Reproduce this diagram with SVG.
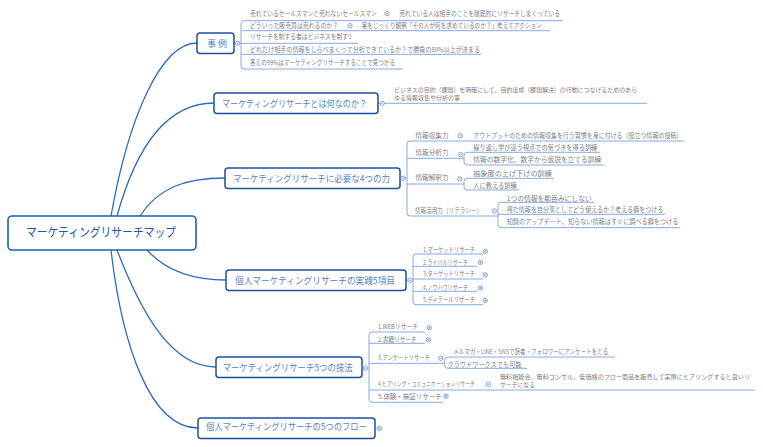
<svg xmlns="http://www.w3.org/2000/svg" xmlns:xlink="http://www.w3.org/1999/xlink" width="763" height="447" viewBox="0 0 763 447">
<style>
text{font-family:"Noto Sans CJK JP","Noto Sans CJK SC",sans-serif}
.conn{fill:none;stroke:#2c6cc8;stroke-width:1.3}
.sub{fill:none;stroke:#86aadf;stroke-width:1}
.rootbox{fill:#fff;stroke:#1b5fb5;stroke-width:1.6}
.brbox{fill:#fff;stroke:#1f4fa0;stroke-width:1.5}
.rt{font-size:12.5px;fill:#1d57a8;text-anchor:middle}
.bt{font-size:9.5px;fill:#5a82c6;text-anchor:middle}
.ct{font-size:6.5px;fill:#7e7e7e}
.gt{font-size:6.2px;fill:#7e7e7e}
</style>
<defs>
<g id="tm"><circle r="2.2" fill="#fff" stroke="#6b8fc9" stroke-width="0.8"/><path d="M-1.2,0H1.2" stroke="#6b8fc9" stroke-width="0.7"/></g>
<g id="tp"><circle r="2.2" fill="#fff" stroke="#6b8fc9" stroke-width="0.8"/><path d="M-1.2,0H1.2M0,-1.2V1.2" stroke="#6b8fc9" stroke-width="0.7"/></g>
</defs>
<rect width="763" height="447" fill="#fff"/>

<g id="connectors">
<path class="conn" d="M111,216 C128,120 160,43 197,43"/>
<path class="conn" d="M117,216 C138,140 170,103 214,103"/>
<path class="conn" d="M140,216 C158,188 185,178 225,178"/>
<path class="conn" d="M147,250 C165,270 190,280 226,280"/>
<path class="conn" d="M117,250 C142,315 172,367 216,367"/>
<path class="conn" d="M111,250 C122,345 150,428 198,428"/>

<path class="sub" d="M234,43.3H241"/>
<path class="sub" d="M241,23.7Q241,20.7 244,20.7H563"/>
<path class="sub" d="M241,23.7V66"/>
<path class="sub" d="M241,30.7H550"/>
<path class="sub" d="M241,43.3H358"/>
<path class="sub" d="M241,54.3H481"/>
<path class="sub" d="M241,66Q241,69 244,69H403"/>

<path class="sub" d="M378,103.3H647"/>

<path class="sub" d="M400,178H407"/>
<path class="sub" d="M407,144Q407,141 410,141H684"/>
<path class="sub" d="M407,144V213"/>
<path class="sub" d="M407,158.3H464"/>
<path class="sub" d="M407,184H464"/>
<path class="sub" d="M407,213Q407,216 410,216H498"/>
<path class="sub" d="M464,155.3Q464,152.3 467,152.3H600"/>
<path class="sub" d="M464,155.3V162"/>
<path class="sub" d="M464,162Q464,165 467,165H604"/>
<path class="sub" d="M464,181.3Q464,178.3 467,178.3H554"/>
<path class="sub" d="M464,181.3V187"/>
<path class="sub" d="M464,187Q464,190 467,190H519"/>
<path class="sub" d="M498,205.3Q498,202.3 501,202.3H594"/>
<path class="sub" d="M498,205.3V224.7"/>
<path class="sub" d="M498,214.3H665"/>
<path class="sub" d="M498,224.7Q498,227.7 501,227.7H680"/>

<path class="sub" d="M406,280.3H413"/>
<path class="sub" d="M413,257Q413,254 416,254H483"/>
<path class="sub" d="M413,257V301.7"/>
<path class="sub" d="M413,266.3H477"/>
<path class="sub" d="M413,279H483"/>
<path class="sub" d="M413,291.3H477"/>
<path class="sub" d="M413,301.7Q413,304.7 416,304.7H483"/>

<path class="sub" d="M362,368H369"/>
<path class="sub" d="M369,335Q369,332 372,332H425"/>
<path class="sub" d="M369,335V399.3"/>
<path class="sub" d="M369,343.3H425"/>
<path class="sub" d="M369,363.3H444.7"/>
<path class="sub" d="M369,390H755"/>
<path class="sub" d="M369,399.3Q369,402.3 372,402.3H443"/>
<path class="sub" d="M444.7,360Q444.7,357 447.7,357H615"/>
<path class="sub" d="M444.7,360V365.3"/>
<path class="sub" d="M444.7,365.3Q444.7,368.3 447.7,368.3H527"/>
</g>

<g id="root">
<rect class="rootbox" x="8" y="216" width="188" height="34" rx="4"/>
<text class="rt" x="101" y="237" textLength="150" lengthAdjust="spacingAndGlyphs">マーケティングリサーチマップ</text>
</g>

<g id="branch-jirei">
<rect class="brbox" x="197" y="33" width="37" height="20.5" rx="3"/>
<text class="bt" x="217" y="46.5" textLength="20" lengthAdjust="spacingAndGlyphs">事 例</text>
<use xlink:href="#tm" x="237.7" y="43.3"/>
<text class="ct" x="250" y="15.9" textLength="126.7" lengthAdjust="spacingAndGlyphs">売れているセールスマンと売れないセールスマン</text>
<use xlink:href="#tm" x="387" y="13.5"/>
<text class="ct" x="399.3" y="15.9" textLength="160.7" lengthAdjust="spacingAndGlyphs">売れている人は相手のことを徹底的にリサーチしまくっている</text>
<text class="ct" x="250" y="27.6" textLength="88" lengthAdjust="spacingAndGlyphs">どういった販売員は売れるのか？</text>
<use xlink:href="#tm" x="350" y="25.7"/>
<text class="ct" x="361.7" y="27.6" textLength="180" lengthAdjust="spacingAndGlyphs">客をじっくり観察「その人が何を求めているのか？」考えてアクション</text>
<text class="ct" x="250" y="39.3" textLength="101.7" lengthAdjust="spacingAndGlyphs">リサーチを制する者はビジネスを制す!!</text>
<text class="ct" x="250" y="52.4" textLength="230" lengthAdjust="spacingAndGlyphs">どれだけ相手の情報をしらべまくって分析できているか？で勝負の80%以上が決まる</text>
<text class="ct" x="250" y="65" textLength="145" lengthAdjust="spacingAndGlyphs">答えの99%はマーケティングリサーチすることで見つかる</text>
</g>

<g id="branch-what">
<rect class="brbox" x="214" y="93" width="164" height="20.5" rx="3"/>
<text class="bt" x="294.5" y="106.6" textLength="145" lengthAdjust="spacingAndGlyphs">マーケティングリサーチとは何なのか？</text>
<use xlink:href="#tm" x="382.3" y="103.3"/>
<text class="gt"><tspan x="394" y="92.2" textLength="243" lengthAdjust="spacingAndGlyphs">ビジネスの目的（課題）を明確にして、目的達成（課題解決）の行動につなげるためのあら</tspan><tspan x="394" y="99.8" textLength="66" lengthAdjust="spacingAndGlyphs">ゆる情報収集や分析の事</tspan></text>
</g>

<g id="branch-4power">
<rect class="brbox" x="225" y="168" width="175" height="20.5" rx="3"/>
<text class="bt" x="311.5" y="181.6" textLength="157" lengthAdjust="spacingAndGlyphs">マーケティングリサーチに必要な4つの力</text>
<use xlink:href="#tm" x="403" y="178.3"/>
<text class="ct" x="415.5" y="137.6" textLength="33" lengthAdjust="spacingAndGlyphs">情報収集力</text>
<use xlink:href="#tm" x="460.3" y="135.8"/>
<text class="ct" x="473.3" y="137.6" textLength="209" lengthAdjust="spacingAndGlyphs">アウトプットのための情報収集を行う習慣を身に付ける（役立つ情報の投稿）</text>
<text class="ct" x="415.5" y="155.3" textLength="33" lengthAdjust="spacingAndGlyphs">情報分析力</text>
<use xlink:href="#tm" x="460.5" y="154.6"/>
<text class="ct" x="473.3" y="150.2" textLength="124" lengthAdjust="spacingAndGlyphs">繰り返し学び違う視点での気づきを得る訓練</text>
<text class="ct" x="473.3" y="161.8" textLength="128" lengthAdjust="spacingAndGlyphs">情報の数字化、数字から仮説を立てる訓練</text>
<text class="ct" x="415.5" y="180.3" textLength="33" lengthAdjust="spacingAndGlyphs">情報解釈力</text>
<use xlink:href="#tm" x="459.8" y="178.8"/>
<text class="ct" x="473.3" y="175.9" textLength="78.5" lengthAdjust="spacingAndGlyphs">抽象度の上げ下げの訓練</text>
<text class="ct" x="473.3" y="187.6" textLength="43.5" lengthAdjust="spacingAndGlyphs">人に教える訓練</text>
<text class="ct" x="415" y="212.6" textLength="67" lengthAdjust="spacingAndGlyphs">情報活用力（リテラシー）</text>
<use xlink:href="#tm" x="494.3" y="210.9"/>
<text class="ct" x="506.7" y="200.6" textLength="85" lengthAdjust="spacingAndGlyphs">1つの情報を鵜呑みにしない</text>
<text class="ct" x="506.7" y="212.4" textLength="156.7" lengthAdjust="spacingAndGlyphs">得た情報を自分事としてどう使えるか？考える癖をつける</text>
<text class="ct" x="506.7" y="224.2" textLength="171.7" lengthAdjust="spacingAndGlyphs">知識のアップデート、知らない情報はすぐに調べる癖をつける</text>
</g>

<g id="branch-5items">
<rect class="brbox" x="226" y="270" width="180" height="20.5" rx="3"/>
<text class="bt" x="315" y="283.8" textLength="160" lengthAdjust="spacingAndGlyphs">個人マーケティングリサーチの実践5項目</text>
<use xlink:href="#tm" x="410" y="280.3"/>
<text class="ct" x="423" y="252.2" textLength="52" lengthAdjust="spacingAndGlyphs">1.マーケットリサーチ</text>
<use xlink:href="#tp" x="485.3" y="251.3"/>
<text class="ct" x="423" y="264.5" textLength="45" lengthAdjust="spacingAndGlyphs">2.ライバルリサーチ</text>
<use xlink:href="#tp" x="480.5" y="262.5"/>
<text class="ct" x="423" y="276.3" textLength="52" lengthAdjust="spacingAndGlyphs">3.ターゲットリサーチ</text>
<use xlink:href="#tp" x="485.3" y="274.7"/>
<text class="ct" x="423" y="289.6" textLength="45" lengthAdjust="spacingAndGlyphs">4.ノウハウリサーチ</text>
<use xlink:href="#tp" x="480.5" y="288"/>
<text class="ct" x="423" y="302.2" textLength="52" lengthAdjust="spacingAndGlyphs">5.ディテールリサーチ</text>
<use xlink:href="#tp" x="485.3" y="300.5"/>
</g>

<g id="branch-5methods">
<rect class="brbox" x="216" y="357" width="146" height="20.5" rx="3"/>
<text class="bt" x="287.7" y="371.1" textLength="130" lengthAdjust="spacingAndGlyphs">マーケティングリサーチ5つの技法</text>
<use xlink:href="#tm" x="365.3" y="368.2"/>
<text class="ct" x="378" y="329.3" textLength="40" lengthAdjust="spacingAndGlyphs">1.WEBリサーチ</text>
<use xlink:href="#tp" x="429.3" y="327.8"/>
<text class="ct" x="378" y="341.6" textLength="38.7" lengthAdjust="spacingAndGlyphs">2.書籍リサーチ</text>
<use xlink:href="#tp" x="428.3" y="339.8"/>
<text class="ct" x="378" y="360.3" textLength="52" lengthAdjust="spacingAndGlyphs">3.アンケートリサーチ</text>
<use xlink:href="#tm" x="440.7" y="358.3"/>
<text class="ct" x="453.3" y="353.8" textLength="155" lengthAdjust="spacingAndGlyphs">メルマガ・LINE・SNSで読者・フォロワーにアンケートをとる</text>
<text class="ct" x="447.5" y="366.5" textLength="74" lengthAdjust="spacingAndGlyphs">クラウドワークスでも可能</text>
<text class="ct" x="378" y="386" style="font-size:5.9px" textLength="97" lengthAdjust="spacingAndGlyphs">4.ヒアリング・コミュニケーションリサーチ</text>
<use xlink:href="#tm" x="488.3" y="384.3"/>
<text class="gt"><tspan x="500" y="378.8" textLength="250" lengthAdjust="spacingAndGlyphs">無料相談会、無料コンサル、低価格のフロー商品を販売して実際にヒアリングすると良いリ</tspan><tspan x="500" y="386.8" textLength="35" lengthAdjust="spacingAndGlyphs">サーチになる</tspan></text>
<text class="ct" x="378" y="398.6" textLength="63.7" lengthAdjust="spacingAndGlyphs">5.体験・検証リサーチ</text>
<use xlink:href="#tp" x="446" y="396.2"/>
</g>

<g id="branch-5flow">
<rect class="brbox" x="198" y="418" width="177" height="20.5" rx="3"/>
<text class="bt" x="286.3" y="430.3" textLength="160.7" lengthAdjust="spacingAndGlyphs">個人マーケティングリサーチの5つのフロー</text>
<use xlink:href="#tp" x="379.3" y="428.4"/>
</g>
</svg>
